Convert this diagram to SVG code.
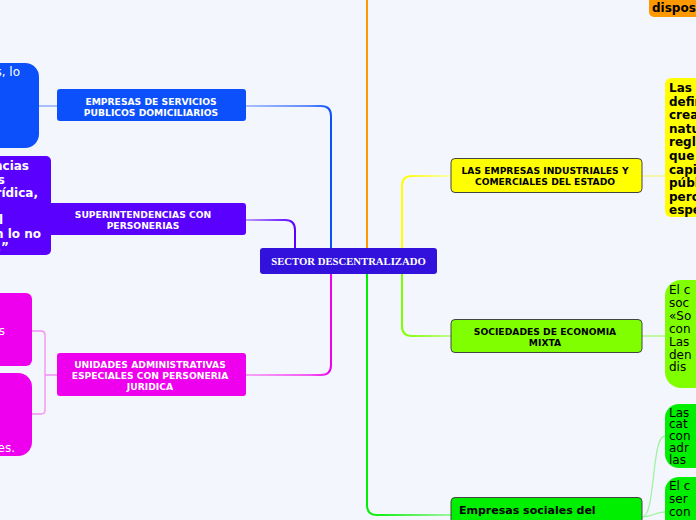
<svg xmlns="http://www.w3.org/2000/svg" width="696" height="520" viewBox="0 0 696 520">
<defs>
<style>
.nt{font-family:"DejaVu Sans",Verdana,sans-serif;font-weight:bold;font-size:9.2px;text-anchor:middle}
.w{fill:#ffffff}
.k{fill:#000000}
.dt{font-family:"DejaVu Sans",Verdana,sans-serif;font-size:12px}
.b{font-weight:bold}
.c{fill:none;stroke-width:2;stroke-linecap:round}
.cs{fill:none;stroke-width:1.3}
</style>
<linearGradient id="gBlue" x1="0" y1="0" x2="1" y2="0"><stop offset="0" stop-color="#a9bfff"/><stop offset="0.75" stop-color="#5f8aff"/><stop offset="1" stop-color="#0b50fb"/></linearGradient>
<linearGradient id="gPur" x1="0" y1="0" x2="1" y2="0"><stop offset="0" stop-color="#b99bff"/><stop offset="1" stop-color="#5a00ff"/></linearGradient>
<linearGradient id="gMag" x1="0" y1="0" x2="1" y2="0"><stop offset="0" stop-color="#f6a6f6"/><stop offset="0.75" stop-color="#f35af3"/><stop offset="1" stop-color="#ee00ee"/></linearGradient>
<linearGradient id="gYel" x1="0" y1="0" x2="1" y2="0"><stop offset="0" stop-color="#ffff00"/><stop offset="1" stop-color="#fbfbb0"/></linearGradient>
<linearGradient id="gLim" x1="0" y1="0" x2="1" y2="0"><stop offset="0" stop-color="#80ff00"/><stop offset="1" stop-color="#c2fb8a"/></linearGradient>
<linearGradient id="gGrn" x1="0" y1="0" x2="1" y2="0"><stop offset="0" stop-color="#00ee00"/><stop offset="0.3" stop-color="#30f030"/><stop offset="1" stop-color="#9ff59f"/></linearGradient>
</defs>
<rect x="0" y="0" width="696" height="520" fill="#f3f6fd"/>

<g id="connectors">
<path class="c" d="M246,106 H321 Q331,106 331,116 V248" stroke="url(#gBlue)"/>
<path class="c" d="M246,220 H285 Q295,220 295,230 V248" stroke="url(#gPur)"/>
<path class="c" d="M246,375 H321 Q331,375 331,365 V274" stroke="url(#gMag)"/>
<path class="c" d="M367,248 V-2" stroke="#ff9900"/>
<path class="c" d="M367,274 V505 Q367,515 377,515 H451" stroke="url(#gGrn)"/>
<path class="c" d="M402,248 V186 Q402,176 412,176 H451" stroke="url(#gYel)"/>
<path class="c" d="M402,274 V326 Q402,336 412,336 H451" stroke="url(#gLim)"/>
<path class="cs" d="M39,106 H57" stroke="#7f9fff"/>
<path class="cs" d="M57,375 H45 M32,331 H41 Q45,331 45,335 V410 Q45,414 41,414 H32" stroke="#f58df5"/>
<path class="cs" d="M642,176 H665" stroke="#f6f67a"/>
<path class="cs" d="M642,336 H665" stroke="#a8f86a"/>
<path class="cs" d="M642,517 C656,517 651,436 665,436 M642,517 C652,517 655,512 665,512" stroke="#9ff59f"/>
</g>

<g id="central">
<rect x="260" y="248" width="177" height="26" rx="3" fill="#3311dd"/>
<text x="348.5" y="264.5" font-family="'Liberation Serif','Times New Roman',serif" font-weight="bold" font-size="10.7" fill="#ffffff" text-anchor="middle">SECTOR DESCENTRALIZADO</text>
</g>

<g id="n-blue">
<rect x="57" y="89" width="189" height="32" rx="3" fill="#0b50fb"/>
<text class="nt w" x="151" y="104.5">EMPRESAS DE SERVICIOS</text>
<text class="nt w" x="151" y="115.5">PUBLICOS DOMICILIARIOS</text>
</g>
<g id="d-blue">
<rect x="-20" y="63" width="59" height="85" rx="14" fill="#0b50fb"/>
<text class="dt w" x="20" y="76" text-anchor="end">s, lo</text>
</g>

<g id="n-purple">
<rect x="40" y="203" width="206" height="32" rx="3" fill="#5a00ff"/>
<text class="nt w" x="143" y="217.5">SUPERINTENDENCIAS CON</text>
<text class="nt w" x="143" y="228.5">PERSONERIAS</text>
</g>
<g id="d-purple">
<rect x="-20" y="156" width="71" height="99" rx="5" fill="#5a00ff"/>
<g class="dt b w" text-anchor="end">
<text x="29" y="170">ncias</text>
<text x="5" y="183.5">s</text>
<text x="38" y="197">urídica,</text>
<text x="3" y="224">l</text>
<text x="41" y="237.5">n lo no</text>
<text x="9" y="251">.”</text>
</g>
</g>

<g id="n-magenta">
<rect x="57" y="353" width="189" height="43" rx="3" fill="#ee00ee"/>
<text class="nt w" x="150" y="368">UNIDADES ADMINISTRATIVAS</text>
<text class="nt w" x="150" y="379">ESPECIALES CON PERSONERIA</text>
<text class="nt w" x="150" y="390">JURIDICA</text>
</g>
<g id="d-magenta-1">
<rect x="-20" y="293" width="52" height="73" rx="6" fill="#ee00ee"/>
<text class="dt w" x="5" y="334.5" text-anchor="end">s</text>
</g>
<g id="d-magenta-2">
<rect x="-20" y="373" width="52" height="83" rx="14" fill="#ee00ee"/>
<text class="dt w" x="15" y="451.5" text-anchor="end" font-size="13">es.</text>
</g>

<g id="n-yellow">
<rect x="451" y="158.5" width="191" height="34" rx="4" fill="#ffff00" stroke="#444" stroke-width="1"/>
<text class="nt k" x="545" y="174">LAS EMPRESAS INDUSTRIALES Y</text>
<text class="nt k" x="545" y="184.5">COMERCIALES DEL ESTADO</text>
</g>
<g id="d-yellow">
<rect x="665" y="78" width="60" height="139" rx="6" fill="#ffff00"/>
<g class="dt b k">
<text x="669" y="92">Las e</text>
<text x="669" y="105.6">defin</text>
<text x="669" y="119.2">crea</text>
<text x="669" y="132.8">natu</text>
<text x="669" y="146.4">regla</text>
<text x="669" y="160">que</text>
<text x="669" y="173.6">capit</text>
<text x="669" y="187.2">públ</text>
<text x="669" y="200.8">perc</text>
<text x="669" y="214.4">espe</text>
</g>
</g>

<g id="n-orange-d">
<rect x="649" y="-10" width="60" height="27" rx="5" fill="#ff9900"/>
<text class="dt b k" x="652" y="11.5">disposi</text>
</g>

<g id="n-lime">
<rect x="451" y="319.5" width="191" height="33" rx="4" fill="#80ff00" stroke="#444" stroke-width="1"/>
<text class="nt k" x="545" y="334.5">SOCIEDADES DE ECONOMIA</text>
<text class="nt k" x="545" y="345.5">MIXTA</text>
</g>
<g id="d-lime">
<rect x="665" y="280" width="60" height="108" rx="16" fill="#80ff00"/>
<g class="dt k">
<text x="669" y="294">El c</text>
<text x="669" y="307">soc</text>
<text x="669" y="320">«So</text>
<text x="669" y="333">con</text>
<text x="669" y="346">Las</text>
<text x="669" y="358.5">den</text>
<text x="669" y="371">dis</text>
</g>
</g>

<g id="n-green">
<rect x="451" y="497.5" width="191" height="40" rx="4" fill="#00ee00" stroke="#444" stroke-width="1"/>
<text x="459" y="514" font-family="'DejaVu Sans',Verdana,sans-serif" font-weight="bold" font-size="11" fill="#000">Empresas sociales del</text>
<text x="459" y="529.5" font-family="'DejaVu Sans',Verdana,sans-serif" font-weight="bold" font-size="11" fill="#000">Estado</text>
</g>
<g id="d-green-1">
<rect x="665" y="404" width="60" height="64" rx="14" fill="#00ee00"/>
<g class="dt k" font-size="11.5">
<text x="669" y="416.5">Las</text>
<text x="669" y="428.3">cat</text>
<text x="669" y="440.1">con</text>
<text x="669" y="451.9">adr</text>
<text x="669" y="463.7">las</text>
</g>
</g>
<g id="d-green-2">
<rect x="665" y="477" width="60" height="60" rx="14" fill="#00ee00"/>
<g class="dt k">
<text x="669" y="489.5">El c</text>
<text x="669" y="502.5">ser</text>
<text x="669" y="515.5">con</text>
</g>
</g>
</svg>
